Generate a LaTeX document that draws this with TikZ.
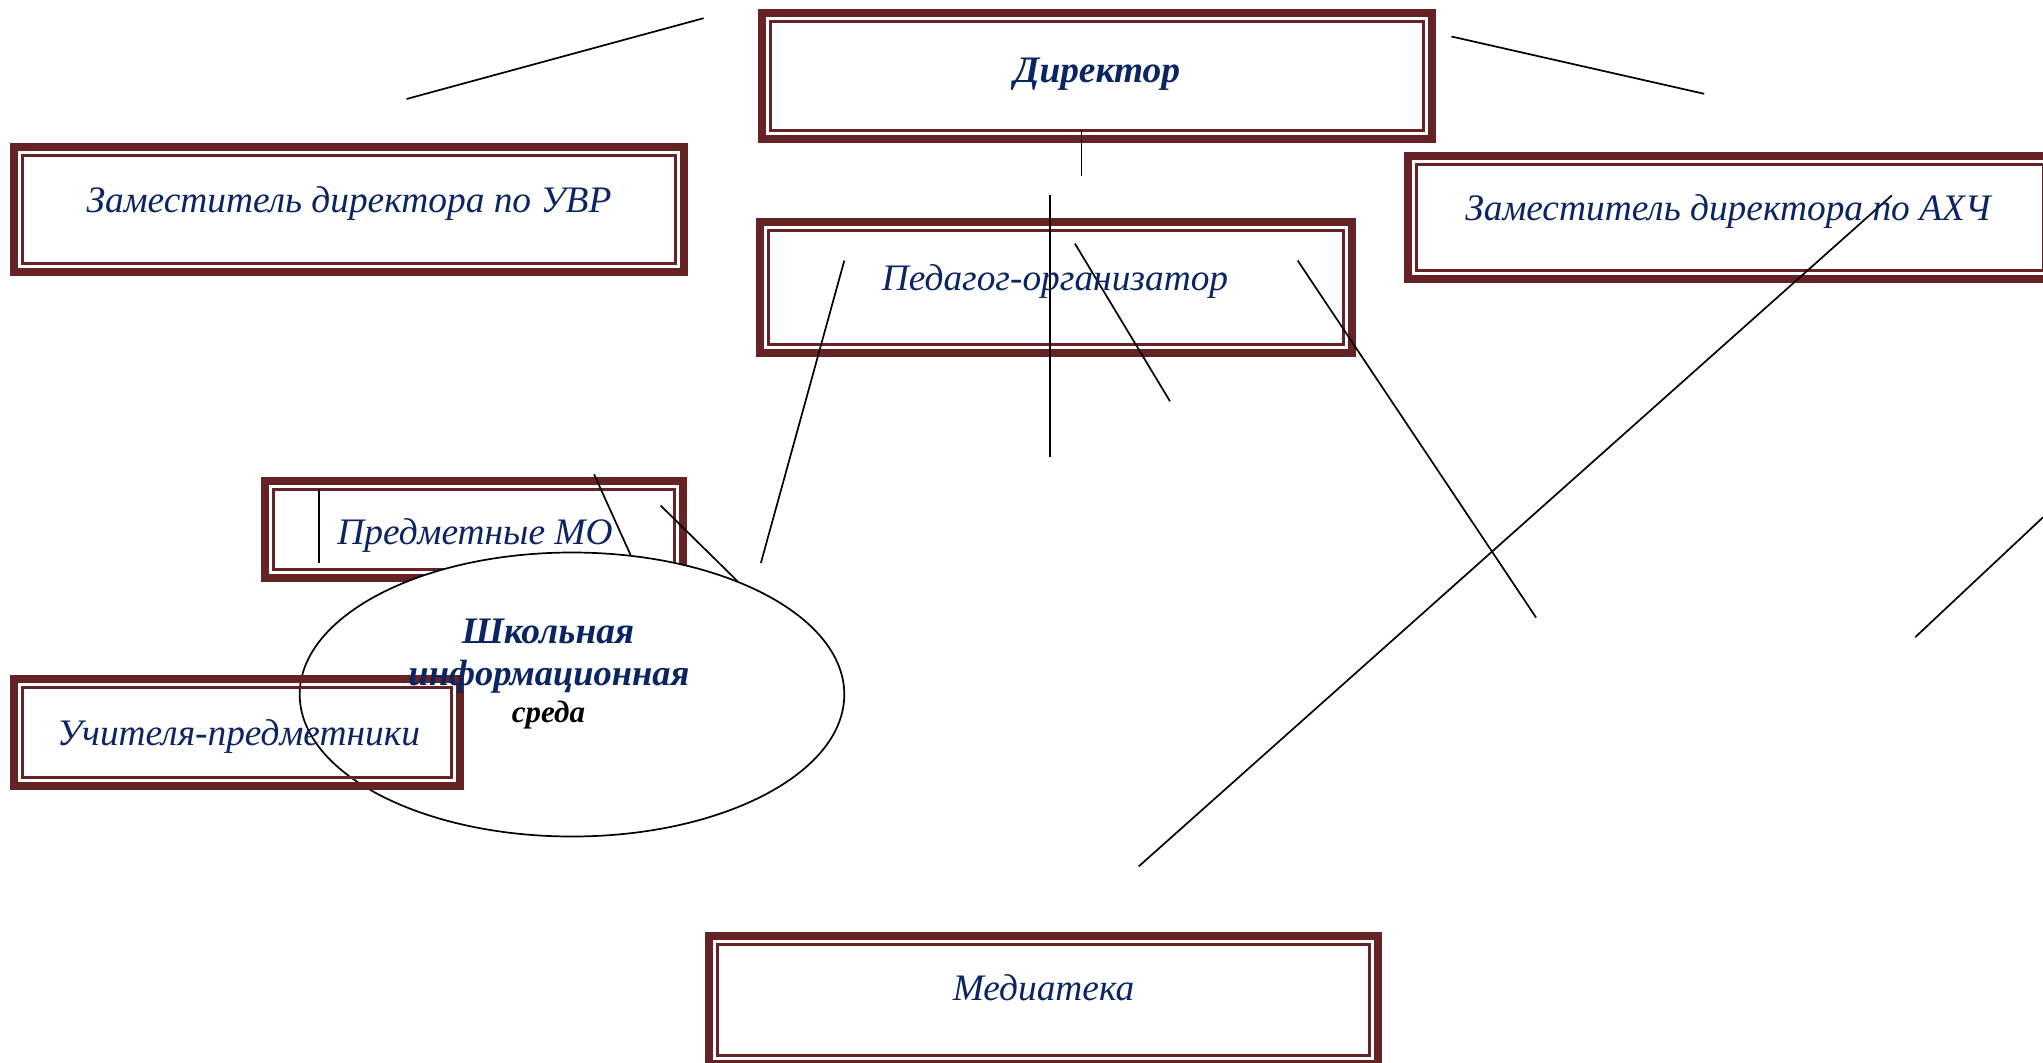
\documentclass[tikz,border=0pt]{standalone}
\usepackage{fontspec}
\setmainfont{Liberation Serif}
\usetikzlibrary{shapes.geometric}
\definecolor{brd}{HTML}{652326}
\definecolor{navy}{HTML}{0B2462}
\tikzset{
  frame/.style={draw=brd, line width=8pt, inner sep=0pt, outer sep=0pt,
    path picture={\draw[brd, line width=3pt]
      ([xshift=8.5pt,yshift=-8.5pt]path picture bounding box.north west) rectangle
      ([xshift=-8.5pt,yshift=8.5pt]path picture bounding box.south east);}},
  lbl/.style={anchor=base, inner sep=0pt, text=navy, font=\fontsize{37.4}{40}\selectfont\itshape},
  bold lbl/.style={lbl, font=\fontsize{37.4}{40}\selectfont\bfseries\itshape},
  conn/.style={draw=black, line width=1.7pt},
}
\begin{document}
\begin{tikzpicture}[x=1pt,y=-1pt]
\fill[white] (0,0) rectangle (2043,1063);
\useasboundingbox (0,0) rectangle (2043,1063);
% boxes
\node[frame, fill=white, minimum width=670pt, minimum height=126pt] (dir) at (1097,76) {};
\node[frame, fill=white, minimum width=670pt, minimum height=125pt] (uvr) at (349,209.5) {};
\node[frame, fill=white, minimum width=644pt, minimum height=123pt] (ahch) at (1730,217.5) {};
\node[frame, fill=white, minimum width=592pt, minimum height=131pt] (ped) at (1056,287.5) {};
\node[frame, fill=white, minimum width=418pt, minimum height=97pt] (mo) at (474,529.5) {};
\node[frame, fill=white, minimum width=669pt, minimum height=128pt] (med) at (1043.5,1000) {};
% free connector ends
\coordinate (a1) at (406.5,99);   \coordinate (a2) at (703.6,18.2);
\coordinate (b1) at (1451.4,36.5); \coordinate (b2) at (1704.2,93.8);
\coordinate (c1) at (1081.4,130.3); \coordinate (c2) at (1081.4,175.9);
\coordinate (d1) at (1050.1,195.4); \coordinate (d2) at (1050.1,457.3);
\coordinate (e1) at (1074.9,243.6); \coordinate (e2) at (1170,401.3);
\coordinate (f1) at (844.3,260.6); \coordinate (f2) at (760.9,562.9);
\coordinate (g1) at (1297.7,260.6); \coordinate (g2) at (1536.1,617.6);
\coordinate (h1) at (1891.8,195.4); \coordinate (h2) at (1138.7,866.4);
\coordinate (i1) at (2043,517.3); \coordinate (i2) at (1915.3,637.1);
\coordinate (j1) at (319.2,488.6); \coordinate (j2) at (319.2,562.9);
\coordinate (k1) at (594.1,474.3); \coordinate (k2) at (630.6,555);
\coordinate (l1) at (660.6,505.5); \coordinate (l2) at (737.4,581.1);
\draw[conn] (a1) -- (a2);
\draw[conn] (b1) -- (b2);
\draw[conn] (c1) -- (c2);
\draw[conn] (d1) -- (d2);
\draw[conn] (e1) -- (e2);
\draw[conn] (f1) -- (f2);
\draw[conn] (g1) -- (g2);
\draw[conn] (h1) -- (h2);
\draw[conn] (i1) -- (i2);
\draw[conn] (j1) -- (j2);
\draw[conn] (k1) -- (k2);
\draw[conn] (l1) -- (l2);
% ellipse
\node[ellipse, draw=black, line width=1.7pt, fill=white, inner sep=0pt,
  minimum width=544.6pt, minimum height=284pt] (sis) at (572,694.5) {};
\node[frame, minimum width=446pt, minimum height=107pt] (uch) at (237,732.5) {};
% labels
\node[bold lbl] (tdir) at (1097,82) {Директор};
\node[lbl] (tuvr) at (349,212) {Заместитель директора по УВР};
\node[lbl] (tahch) at (1728,220) {Заместитель директора по АХЧ};
\node[lbl] (tped) at (1055,290.5) {Педагог-организатор};
\node[lbl] (tmo) at (475,544.6) {Предметные МО};
\node[lbl] (tuch) at (238.5,745) {Учителя-предметники};
\node[lbl] (tmed) at (1043.6,1000.6) {Медиатека};
\node[bold lbl] (tsis1) at (548,643.6) {Школьная};
\node[bold lbl, font=\fontsize{36.5}{40}\selectfont\bfseries\itshape] (tsis2) at (549,685) {информационная};
\node[lbl, text=black, font=\fontsize{31}{32}\selectfont\bfseries\itshape] (tsis3) at (548.5,722) {среда};
\end{tikzpicture}
\end{document}
